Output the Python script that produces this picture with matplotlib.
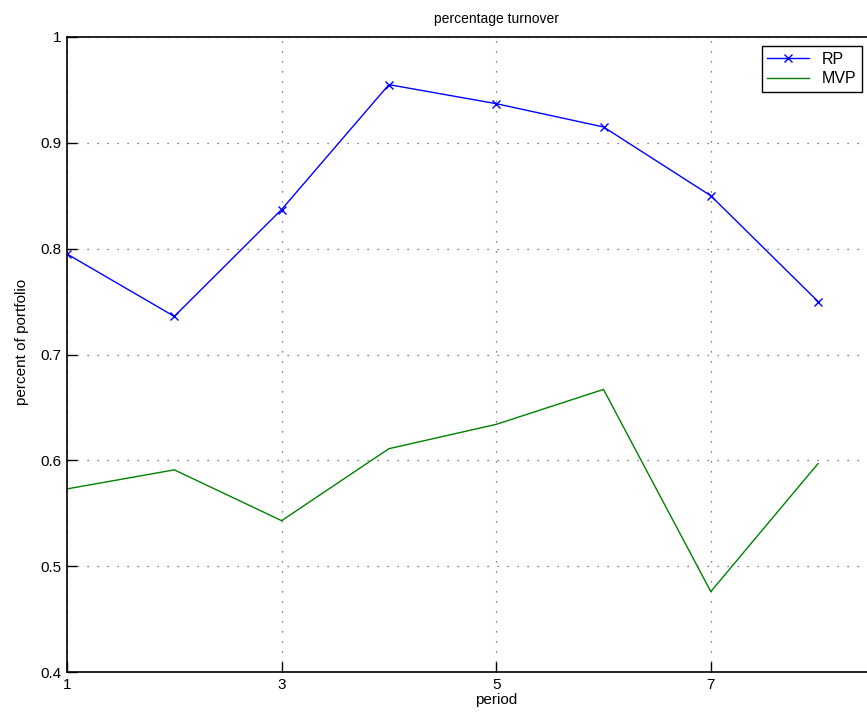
import matplotlib
matplotlib.use("Agg")
import matplotlib.pyplot as plt

period = [1, 2, 3, 4, 5, 6, 7, 8]
rp = [0.795, 0.736, 0.837, 0.955, 0.937, 0.915, 0.850, 0.750]
mvp = [0.573, 0.591, 0.543, 0.611, 0.634, 0.667, 0.476, 0.597]
xticks = [1, 3, 5, 7]
yticks = [0.4, 0.5, 0.6, 0.7, 0.8, 0.9, 1.0]
yticklabels = ["0.4", "0.5", "0.6", "0.7", "0.8", "0.9", "1"]

plt.rcParams['font.family'] = ['Liberation Sans', 'DejaVu Sans']

fig = plt.figure(figsize=(8.67, 7.24), dpi=100)
ax = fig.add_axes([67 / 867, 1 - 672 / 724, 8 * 107.3 / 867, 635 / 724])

ax.plot(period, rp, color='#0000ff', lw=1, marker='x', ms=6, mew=1, label='RP')
ax.plot(period, mvp, color='#008000', lw=1, label='MVP')

ax.set_xlim(1, 9)
ax.set_ylim(0.4, 1.0)
ax.set_xticks(xticks)
ax.set_yticks(yticks)
ax.set_yticklabels(yticklabels)
ax.tick_params(direction='in', length=7, width=1, labelsize=11, pad=4)
ax.grid(True, color='#555555', linestyle=(0, (1, 7)), linewidth=0.9)
for s in ax.spines.values():
    s.set_linewidth(1.2)

ax.set_title('percentage turnover', fontsize=10, pad=10)
ax.set_xlabel('period', fontsize=11, labelpad=1)
ax.set_ylabel('percent of portfolio', fontsize=11)
ax.yaxis.set_label_coords(-0.044, 0.52)

leg = ax.legend(loc='upper right', bbox_to_anchor=(862 / 867, 1 - 46 / 724),
                bbox_transform=fig.transFigure, fontsize=11.5, fancybox=False,
                edgecolor='black', framealpha=1, borderpad=0.35,
                handlelength=2.6, handletextpad=0.8, labelspacing=0.3,
                borderaxespad=0)
leg.get_frame().set_linewidth(1)

fig.savefig('out.png', dpi=100)
